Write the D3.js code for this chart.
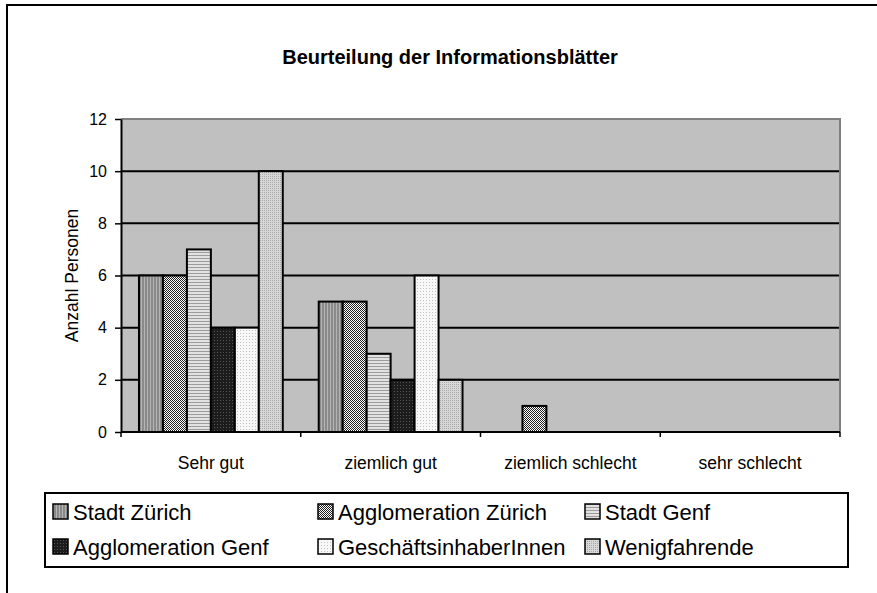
<!DOCTYPE html>
<html>
<head>
<meta charset="utf-8">
<script src="https://cdn.jsdelivr.net/npm/d3@7"></script>
<style>
  body { margin: 0; background: #fff; }
  svg { display: block; font-family: Arial, "Liberation Sans", sans-serif; }
</style>
</head>
<body>
<svg id="chart" width="877" height="593"></svg>
<script>
// categories on the x axis
const categories = ["Sehr gut", "ziemlich gut", "ziemlich schlecht", "sehr schlecht"];
// series names (legend order)
const seriesNames = ["Stadt Zürich", "Agglomeration Zürich", "Stadt Genf",
                     "Agglomeration Genf", "GeschäftsinhaberInnen", "Wenigfahrende"];
// values per series, one per category
const stadtZuerich = [6, 5, 0, 0];
const aggloZuerich = [6, 5, 1, 0];
const stadtGenf = [7, 3, 0, 0];
const aggloGenf = [4, 2, 0, 0];
const geschaeft = [4, 6, 0, 0];
const wenigfahrende = [10, 2, 0, 0];
const yTicks = [0, 2, 4, 6, 8, 10, 12];

const allValues = [stadtZuerich, aggloZuerich, stadtGenf, aggloGenf, geschaeft, wenigfahrende];

const svg = d3.select("#chart");
const defs = svg.append("defs");

// fill patterns, roughly like the old excel hatchings
function pattern(id, size, bg, draw) {
    let p = defs.append("pattern")
        .attr("id", id)
        .attr("width", size)
        .attr("height", size)
        .attr("patternUnits", "userSpaceOnUse");
    p.append("rect").attr("width", size).attr("height", size).attr("fill", bg);
    draw(p);
}

// vertical stripes
pattern("p0", 3, "#8a8a8a", function(p) {
    p.append("rect").attr("x", 0).attr("width", 1).attr("height", 3).attr("fill", "#b4b4b4");
});
// fine checker
pattern("p1", 2, "#ffffff", function(p) {
    p.append("rect").attr("width", 1).attr("height", 1).attr("fill", "#222");
    p.append("rect").attr("x", 1).attr("y", 1).attr("width", 1).attr("height", 1).attr("fill", "#222");
});
// horizontal stripes
pattern("p2", 3, "#e2e2e2", function(p) {
    p.append("rect").attr("y", 0).attr("width", 3).attr("height", 1).attr("fill", "#9c9c9c");
});
// dark with dots
pattern("p3", 3, "#1c1c1c", function(p) {
    p.append("rect").attr("x", 1).attr("y", 1).attr("width", 1).attr("height", 1).attr("fill", "#555");
});
// near white grid
pattern("p4", 3, "#f8f8f8", function(p) {
    p.append("rect").attr("x", 0).attr("y", 0).attr("width", 1).attr("height", 1).attr("fill", "#c0c0c0");
});
// light speckle
pattern("p5", 2, "#d8d8d8", function(p) {
    p.append("rect").attr("width", 1).attr("height", 1).attr("fill", "#a8a8a8");
});

// outer frame (cut off by the window on right/bottom)
svg.append("rect")
    .attr("x", 7).attr("y", 5)
    .attr("width", 1000).attr("height", 1000)
    .attr("fill", "none").attr("stroke", "#000").attr("stroke-width", 2);

const plot = { left: 121, top: 119, right: 840, bottom: 432 };

const x0 = d3.scaleBand()
    .domain(categories)
    .range([plot.left, plot.right]);

const gap = x0.bandwidth() * 0.1;
const x1 = d3.scaleBand()
    .domain(d3.range(seriesNames.length))
    .range([gap, x0.bandwidth() - gap]);

const y = d3.scaleLinear()
    .domain([0, 12])
    .range([plot.bottom, plot.top]);

// plot background
svg.append("rect")
    .attr("x", plot.left).attr("y", plot.top)
    .attr("width", plot.right - plot.left)
    .attr("height", plot.bottom - plot.top)
    .attr("fill", "#c0c0c0");

// gridlines
svg.append("g")
    .selectAll("line")
    .data(yTicks.filter(d => d > 0 && d < 12))
    .enter()
    .append("line")
    .attr("x1", plot.left).attr("x2", plot.right)
    .attr("y1", d => y(d)).attr("y2", d => y(d))
    .attr("stroke", "#000").attr("stroke-width", 2);

// grey border top/right
svg.append("path")
    .attr("d", "M" + plot.left + "," + plot.top + "H" + plot.right + "V" + plot.bottom)
    .attr("fill", "none").attr("stroke", "#808080").attr("stroke-width", 2);

// bars
let barData = [];
allValues.forEach(function(vals, s) {
    vals.forEach(function(v, c) {
        if (v > 0) barData.push({ s: s, c: c, v: v });
    });
});

svg.append("g")
    .selectAll("rect")
    .data(barData)
    .enter()
    .append("rect")
    .attr("x", d => x0(categories[d.c]) + x1(d.s))
    .attr("y", d => y(d.v))
    .attr("width", x1.bandwidth())
    .attr("height", d => y(0) - y(d.v))
    .attr("fill", d => "url(#p" + d.s + ")")
    .attr("stroke", "#000")
    .attr("stroke-width", 2);

// y axis
const yAxis = d3.axisLeft(y)
    .tickValues(yTicks)
    .tickSize(6)
    .tickPadding(8)
    .tickSizeOuter(0);
const yg = svg.append("g")
    .attr("transform", "translate(" + plot.left + ",0)")
    .call(yAxis);
yg.select(".domain").attr("stroke-width", 2);
yg.selectAll(".tick line").attr("stroke-width", 1.5);
yg.selectAll("text").attr("font-size", 16).attr("fill", "#000")
    .attr("font-family", "Arial, 'Liberation Sans', sans-serif");

// x axis, ticks at the category boundaries
const xg = svg.append("g")
    .attr("transform", "translate(0," + plot.bottom + ")");
xg.append("line")
    .attr("x1", plot.left).attr("x2", plot.right)
    .attr("stroke", "#000").attr("stroke-width", 2);
xg.selectAll(".xt")
    .data(categories.concat(["end"]))
    .enter()
    .append("line")
    .attr("x1", (d, i) => i < categories.length ? x0(d) : plot.right)
    .attr("x2", (d, i) => i < categories.length ? x0(d) : plot.right)
    .attr("y1", 0).attr("y2", 5)
    .attr("stroke", "#000").attr("stroke-width", 1.5);
xg.selectAll(".xl")
    .data(categories)
    .enter()
    .append("text")
    .attr("x", d => x0(d) + x0.bandwidth() / 2)
    .attr("y", 37)
    .attr("text-anchor", "middle")
    .attr("font-size", 17.5)
    .text(d => d);

// axis title
svg.append("text")
    .attr("transform", "translate(78," + ((plot.top + plot.bottom) / 2) + ") rotate(-90)")
    .attr("text-anchor", "middle")
    .attr("font-size", 17.5)
    .text("Anzahl Personen");

// title
svg.append("text")
    .attr("x", 450).attr("y", 64)
    .attr("text-anchor", "middle")
    .attr("font-size", 20)
    .attr("font-weight", "bold")
    .text("Beurteilung der Informationsblätter");

// legend
const legend = svg.append("g");
legend.append("rect")
    .attr("x", 45).attr("y", 493)
    .attr("width", 803).attr("height", 74)
    .attr("fill", "#fff").attr("stroke", "#000").attr("stroke-width", 2);

const colX = [53, 318, 585];
const rowY = [504, 539];

const items = legend.selectAll(".li")
    .data(seriesNames)
    .enter()
    .append("g")
    .attr("transform", (d, i) => "translate(" + colX[i % 3] + "," + rowY[Math.floor(i / 3)] + ")");
items.append("rect")
    .attr("width", 15).attr("height", 15)
    .attr("fill", (d, i) => "url(#p" + i + ")")
    .attr("stroke", "#000").attr("stroke-width", 1.5);
items.append("text")
    .attr("x", 20).attr("y", 16)
    .attr("font-size", 22)
    .text(d => d);
</script>
</body>
</html>
